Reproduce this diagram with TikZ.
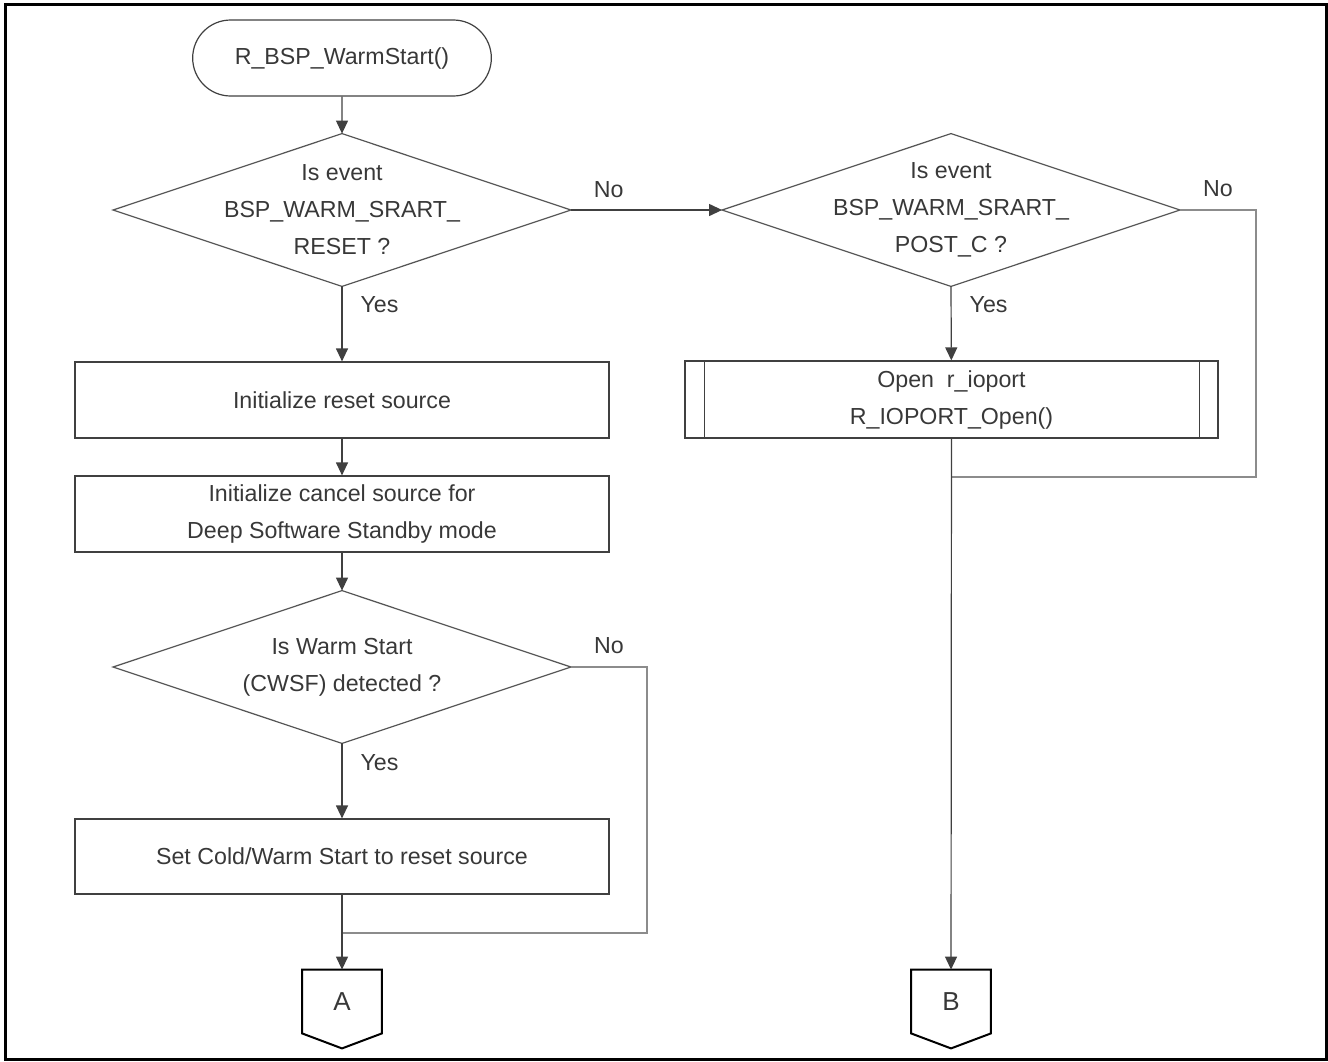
\documentclass[tikz,border=0pt]{standalone}
\usepackage{fontspec}
\setmainfont{Liberation Sans}
\usepackage{tikz}
\usetikzlibrary{arrows.meta, positioning, shapes.misc}

\definecolor{txtgray}{HTML}{383838}
\definecolor{linegray}{HTML}{404040}
\definecolor{diagray}{HTML}{555555}
\definecolor{backgray}{HTML}{8C8C8C}

\begin{document}
\begin{tikzpicture}[x=0.5pt, y=-0.5pt,
    every node/.style={font=\fontsize{11.6}{18.5}\selectfont, text=txtgray},
    terminal/.style={rounded rectangle, draw=linegray, line width=0.6pt, minimum width=156pt, minimum height=38pt},
    process/.style={rectangle, draw=linegray, line width=0.6pt, minimum width=267pt, minimum height=38pt, inner sep=2pt, align=center},
    decision/.style={rectangle, minimum width=228.5pt, minimum height=76pt, inner sep=0pt, align=center},
    offpage/.style={minimum width=39.5pt, minimum height=31.5pt, inner sep=0pt, font=\fontsize{13}{15}\selectfont},
    flow/.style={draw=linegray, line width=0.6pt, -{Triangle[width=6pt, length=6.5pt]}},
    back/.style={draw=backgray, line width=0.9pt},
    lbl/.style={inner sep=3pt}]
\useasboundingbox (0,0) rectangle (1328,1061);
\draw[line width=1.5pt] (5,4) rectangle (1326,1059);

% Start
\node[terminal] (start) at (342,58) {R\_BSP\_WarmStart()};

% Left column
\node[decision] (dec1) at (342,210) {Is event\\BSP\_WARM\_SRART\_\\RESET ?};
\node[process] (init1) at (342,400) {Initialize reset source};
\node[process] (init2) at (342,514) {Initialize cancel source for\\Deep Software Standby mode};
\node[decision] (dec3) at (342,667) {Is Warm Start\\(CWSF) detected ?};
\node[process, minimum height=37.5pt] (setcw) at (342,856.5) {Set Cold/Warm Start to reset source};
\node[offpage] (A) at (342,1001.5) {A};

% Right column
\node[decision] (dec2) at (951,210) {Is event\\BSP\_WARM\_SRART\_\\POST\_C ?};
\node[process, minimum width=266.5pt, minimum height=38.5pt] (ioport) at (951.5,399.5) {Open\ \ r\_ioport\\R\_IOPORT\_Open()};
\node[offpage] (B) at (951,1001.5) {B};

% Shapes
\foreach \d in {dec1,dec2,dec3}
    \draw[diagray, line width=0.6pt] (\d.north) -- (\d.east) -- (\d.south) -- (\d.west) -- cycle;
\foreach \a/\s in {west/10pt, east/-9.5pt}
    \draw[linegray, line width=0.6pt] ([xshift=\s]ioport.north \a) -- ([xshift=\s]ioport.south \a);
\foreach \c in {A,B}
    \draw[black, line width=1pt] (\c.north west) -- (\c.north east) -- (\c.south east) -- ([yshift=-7.5pt]\c.south) -- (\c.south west) -- cycle;

% No branches
\coordinate (noA) at (647,667);
\coordinate (joinA) at (342,933);
\coordinate (noB) at (1256,210);
\coordinate (joinB) at (951,477);
\draw[back] (dec3.east) -- node[lbl, above=3pt] {No} (noA) |- (joinA);
\draw[back] (dec2.east) -- node[lbl, above=3pt] {No} (noB) |- (joinB);

% Flow
\draw[flow] (start) -- (dec1);
\draw[flow] (dec1.east) -- node[lbl, above=3pt, pos=0.25] {No} (dec2.west);
\draw[flow] (dec1.south) -- node[lbl, right=6pt, pos=0.24] {Yes} (init1);
\draw[flow] (init1) -- (init2);
\draw[flow] (init2) -- (dec3);
\draw[flow] (dec3.south) -- node[lbl, right=6pt, pos=0.25] {Yes} (setcw);
\draw[flow] (setcw) -- (A);
\draw[flow] (dec2.south) -- node[lbl, right=6pt, pos=0.24] {Yes} (ioport);
\draw[flow] (ioport) -- (B);
\end{tikzpicture}
\end{document}
